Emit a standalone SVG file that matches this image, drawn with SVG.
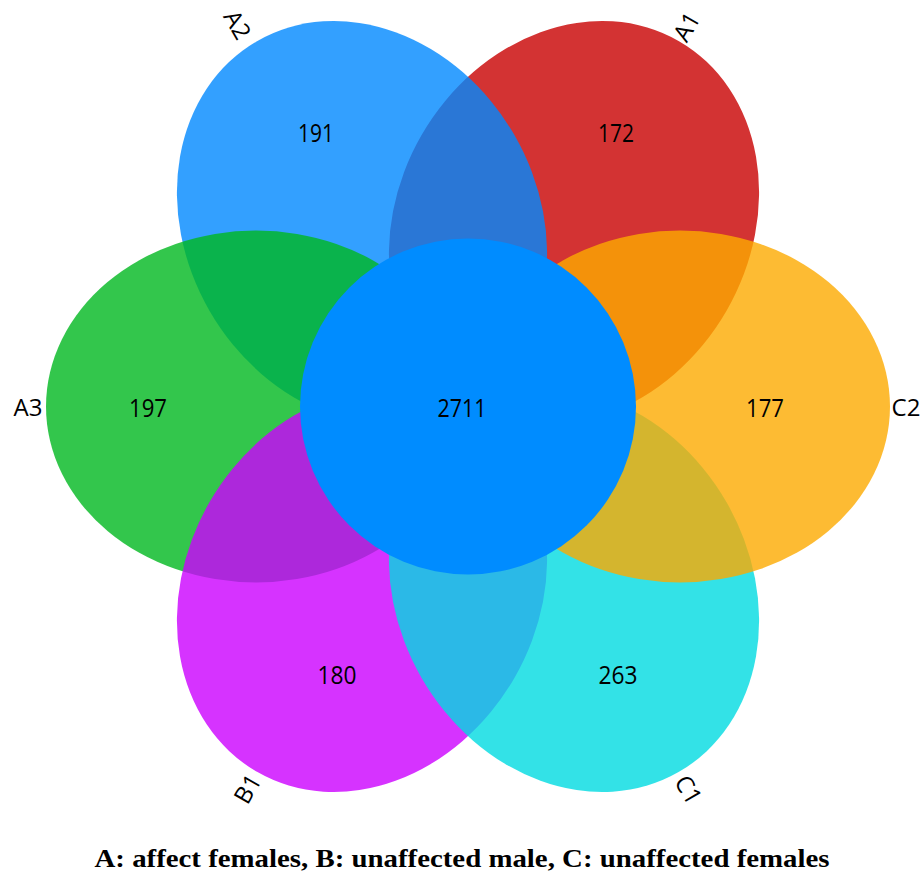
<svg xmlns="http://www.w3.org/2000/svg" width="922" height="875" viewBox="0 0 922 875">
<style>
.petal{fill-opacity:0.8}
.num{font-family:"Open Sans","Noto Sans",sans-serif;font-size:26px;fill:#000;text-anchor:middle}
.lab{font-family:"Open Sans","Noto Sans",sans-serif;font-size:24px;fill:#000;text-anchor:middle}
.cap{font-family:"Liberation Serif","Times New Roman",serif;font-size:26px;font-weight:bold;fill:#000;text-anchor:middle}
</style>
<rect width="922" height="875" fill="#fff"/>
<g id="A1"><ellipse class="petal" cx="574" cy="223" rx="210" ry="176" fill="#C80000" transform="rotate(-60 574 223)"/></g>
<g id="A2"><ellipse class="petal" cx="362" cy="223" rx="210" ry="176" fill="#0088FF" transform="rotate(60 362 223)"/></g>
<g id="A3"><ellipse class="petal" cx="256" cy="406.5" rx="210" ry="176" fill="#00B81F"/></g>
<g id="B1"><ellipse class="petal" cx="362" cy="590" rx="210" ry="176" fill="#CC00FF" transform="rotate(-60 362 590)"/></g>
<g id="C1"><ellipse class="petal" cx="574" cy="590" rx="210" ry="176" fill="#00DBE1" transform="rotate(60 574 590)"/></g>
<g id="C2"><ellipse class="petal" cx="680" cy="406.5" rx="210" ry="176" fill="#FCAA00"/></g>
<g id="core"><circle cx="468" cy="406.5" r="168" fill="#008CFF"/></g>
<g id="counts">
<text class="num" x="316" y="142" textLength="36" lengthAdjust="spacingAndGlyphs">191</text>
<text class="num" x="616" y="142" textLength="36" lengthAdjust="spacingAndGlyphs">172</text>
<text class="num" x="148" y="417" textLength="38" lengthAdjust="spacingAndGlyphs">197</text>
<text class="num" x="765" y="417" textLength="38" lengthAdjust="spacingAndGlyphs">177</text>
<text class="num" x="462" y="417" textLength="49" lengthAdjust="spacingAndGlyphs">2711</text>
<text class="num" x="337" y="684" textLength="39" lengthAdjust="spacingAndGlyphs">180</text>
<text class="num" x="618" y="684" textLength="39" lengthAdjust="spacingAndGlyphs">263</text>
</g>
<g id="labels">
<text class="lab" x="28" y="416">A3</text>
<text class="lab" x="906" y="416">C2</text>
<text class="lab" transform="translate(237,25) rotate(60)" y="8">A2</text>
<text class="lab" transform="translate(687,27) rotate(-60)" y="8">A1</text>
<text class="lab" transform="translate(248,789) rotate(-60)" y="8">B1</text>
<text class="lab" transform="translate(688,790) rotate(60)" y="8">C1</text>
</g>
<text class="cap" x="462" y="867" textLength="735" lengthAdjust="spacingAndGlyphs">A: affect females, B: unaffected male, C: unaffected females</text>
</svg>
